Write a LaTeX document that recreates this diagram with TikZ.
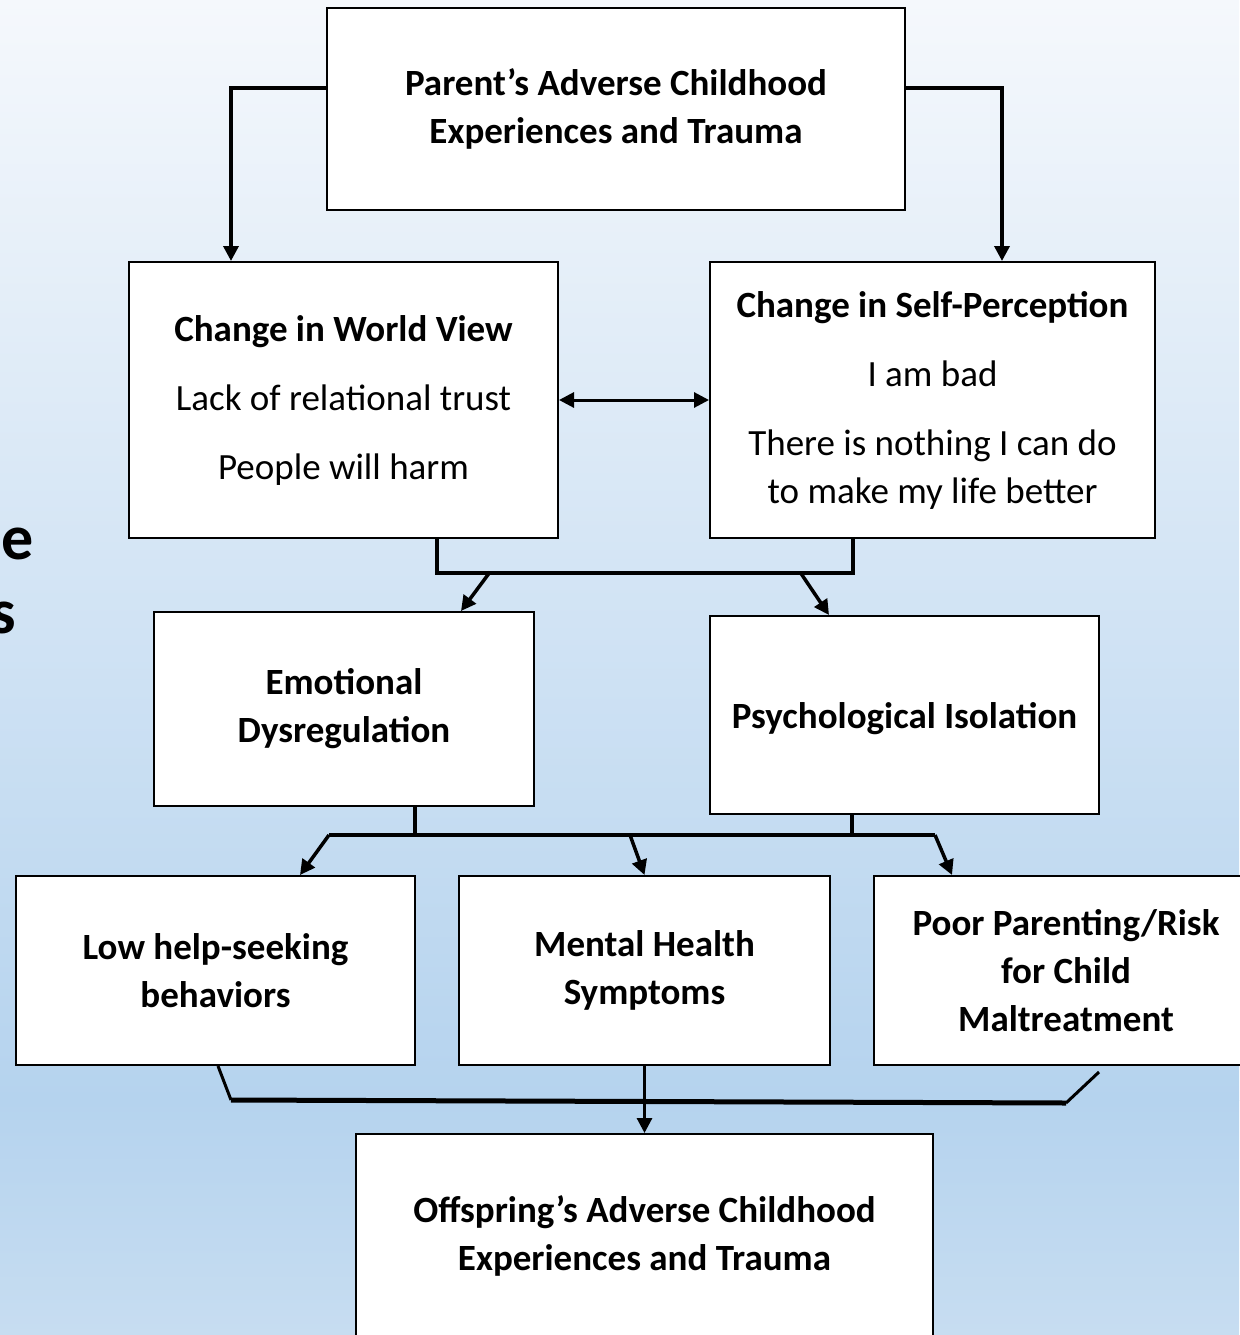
\documentclass[tikz,border=0pt]{standalone}
\usepackage{fontspec}
\setmainfont{Carlito}
\usetikzlibrary{arrows.meta,calc}
\definecolor{bgtop}{HTML}{F5F8FC}
\definecolor{bgmid}{HTML}{B5D3EE}
\definecolor{bgbot}{HTML}{C7DDF1}
\begin{document}
\begin{tikzpicture}[x=1pt,y=-1pt,
  box/.style={draw=black, line width=2pt, fill=white, inner sep=0pt,
    align=center, font=\fontsize{37}{48}\selectfont,
    execute at begin node={\rule{0pt}{33pt}}},
  conn/.style={line width=3.5pt, line join=miter},
  arr/.style={conn, -{Triangle[length=15pt,width=15pt]}},
  darr/.style={line width=3pt, {Triangle[length=15pt,width=15pt]}-{Triangle[length=15pt,width=15pt]}},
  frag/.style={inner sep=0pt, font=\fontsize{64}{74}\selectfont\bfseries}]

% background
\useasboundingbox (0,0) rectangle (1239,1335);
\shade[top color=bgtop, bottom color=bgmid] (0,0) rectangle (1239,1100);
\shade[top color=bgmid, bottom color=bgbot] (0,1100) rectangle (1239,1335);

% title letters running off the left edge
\node[frag, anchor=base west] (fragE) at (1,559) {e};
\node[frag, anchor=base east] (fragS) at (16,633) {s};

% boxes
\node[box, minimum width=578pt, minimum height=202pt] (parent) at (616,109)
  {\bfseries Parent’s Adverse Childhood\\ \bfseries Experiences and Trauma};
\node[box, minimum width=429pt, minimum height=276pt] (world) at (343.5,400)
  {\bfseries Change in World View\\[21pt] Lack of relational trust\\[21pt] People will harm};
\node[box, minimum width=445pt, minimum height=276pt] (self) at (932.5,400)
  {\bfseries Change in Self-Perception\\[21pt] I am bad\\[21pt] There is nothing I can do\\ to make my life better};
\node[box, minimum width=380pt, minimum height=194pt] (emo) at (344,709)
  {\bfseries Emotional\\ \bfseries Dysregulation};
\node[box, minimum width=389pt, minimum height=198pt] (psy) at (904.5,715)
  {\bfseries Psychological Isolation};
\node[box, minimum width=399pt, minimum height=189pt] (low) at (215.5,970.5)
  {\bfseries Low help-seeking\\ \bfseries behaviors};
\node[box, minimum width=371pt, minimum height=189pt] (mental) at (644.5,970.5)
  {\bfseries Mental Health\\ \bfseries Symptoms};
\node[box, minimum width=384pt, minimum height=189pt] (poor) at (1066,970.5)
  {\bfseries Poor Parenting/Risk\\ \bfseries for Child\\ \bfseries Maltreatment};
\node[box, minimum width=577pt, minimum height=204pt] (off) at (644.5,1236)
  {\bfseries Offspring’s Adverse Childhood\\ \bfseries Experiences and Trauma};

% parent to the two changes
\draw[arr] ([yshift=21pt]parent.west) -| ([xshift=-112.5pt]world.north);
\draw[arr] ([yshift=21pt]parent.east) -| ([xshift=69.5pt]self.north);
\draw[darr] (world.east) -- (self.west);

% first bracket
\coordinate (b1l) at (490,572);
\coordinate (b1r) at (800,572);
\draw[conn] ([xshift=93.5pt]world.south) |- ([xshift=-79.5pt,yshift=-34pt]self.south) -- ([xshift=-79.5pt]self.south);
\draw[arr] (b1l) -- ([xshift=117pt]emo.north);
\draw[arr] (b1r) -- ([xshift=-75.5pt]psy.north);

% second bracket
\coordinate (b2l) at (329,835);
\coordinate (b2m) at (630,835);
\coordinate (b2r) at (935,835);
\draw[conn] ([xshift=71pt]emo.south) -- ([xshift=71pt,yshift=-29pt]emo.south);
\draw[conn] ([xshift=-52.5pt]psy.south) -- ([xshift=-52.5pt,yshift=-21pt]psy.south);
\draw[conn] (b2l) -- (b2r);
\draw[arr] (b2l) -- ([xshift=84.5pt]low.north);
\draw[arr] (b2m) -- (mental.north);
\draw[arr] (b2r) -- ([xshift=-114pt]poor.north);

% third bracket
\coordinate (b3l) at (231,1100);
\coordinate (b3r) at (1066,1103);
\draw[line width=3pt] ([xshift=2.5pt]low.south) -- (b3l);
\draw[line width=5pt] (b3l) -- (b3r);
\draw[line width=3pt] (b3r) -- ([xshift=33pt,yshift=-6pt]poor.south);
\draw[arr, line width=3pt] (mental.south) -- (off.north);
\end{tikzpicture}
\end{document}
